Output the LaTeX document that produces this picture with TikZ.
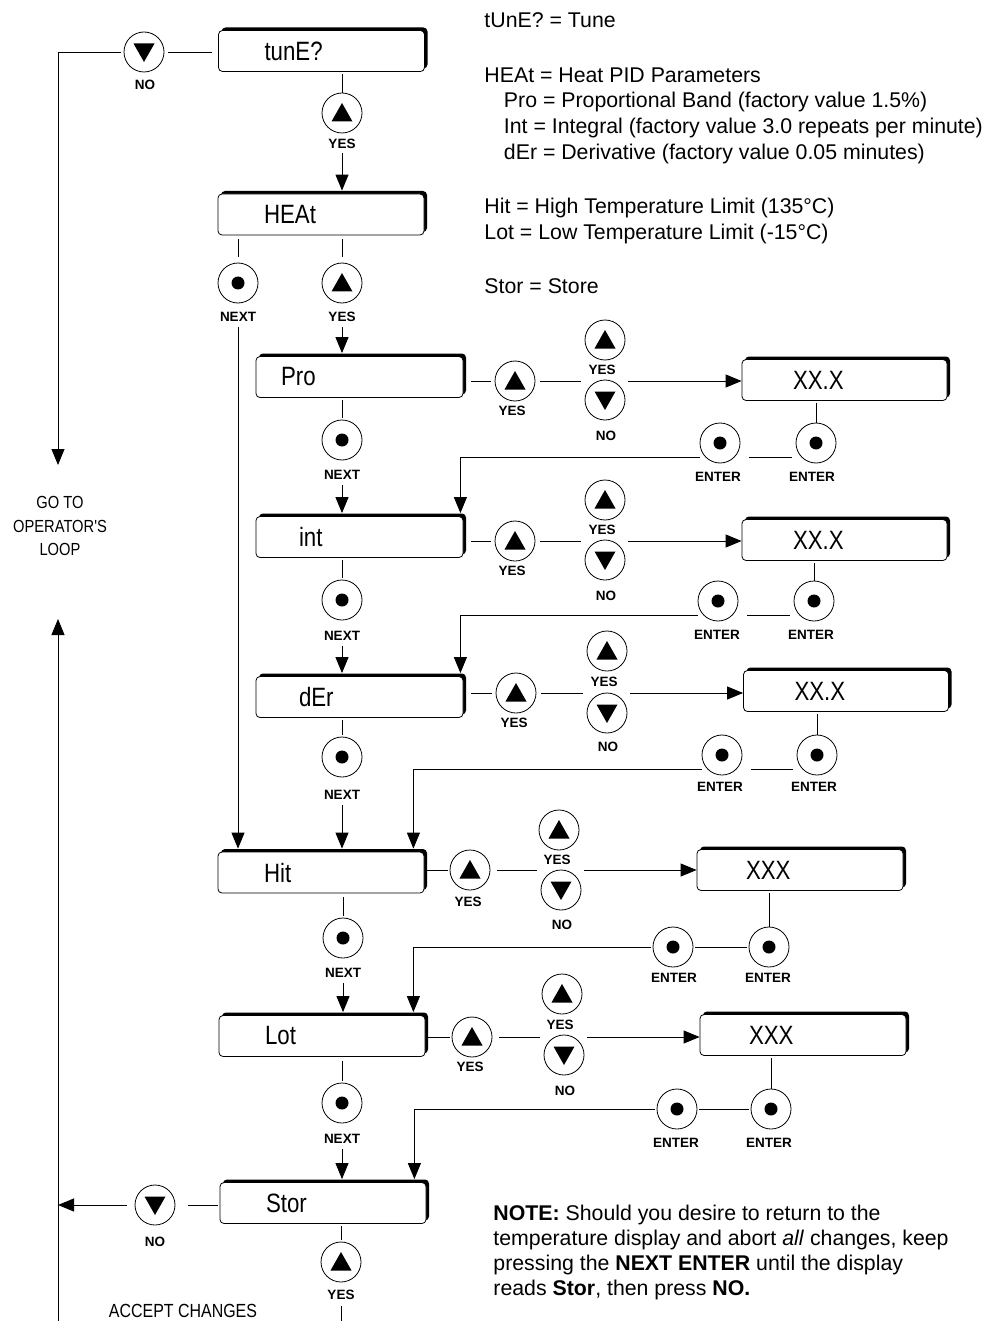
\documentclass[tikz,border=0pt]{standalone}
\usepackage{fontspec}
\setmainfont{Liberation Sans}
\newfontfamily\dispfont[FakeStretch=0.84]{Liberation Sans}
\usetikzlibrary{arrows.meta,shadows}
\begin{document}
\begin{tikzpicture}[x=1pt,y=-1pt,line width=0.9pt,
  arr/.style={-{Triangle[width=13pt,length=16pt]}},
  dbox/.style={draw, fill=white, rounded corners=4pt, line width=0.8pt, minimum height=41pt, inner ysep=0pt, align=left,
    font=\dispfont\fontsize{26.5pt}{28pt}\selectfont,
    drop shadow={shadow xshift=3pt, shadow yshift=3pt, fill=black, opacity=1}},
  boxmain/.style={dbox, text width=114pt, inner xsep=46pt},
  boxsub/.style={dbox, text width=121pt, inner xsep=43pt},
  xxbox/.style={dbox, text width=103pt, inner xsep=51pt},
  xxxbox/.style={dbox, text width=108pt, inner xsep=49pt},
  btn/.style={circle, draw, line width=0.8pt, minimum size=40pt, inner sep=0pt, fill=white},
  bup/.style={btn, path picture={\fill[black] ([yshift=10pt]path picture bounding box.center) -- ++(-10.5pt,-18.5pt) -- ++(21pt,0pt) -- cycle;}},
  bdown/.style={btn, path picture={\fill[black] ([yshift=-10pt]path picture bounding box.center) -- ++(-10.5pt,18.5pt) -- ++(21pt,0pt) -- cycle;}},
  bdot/.style={btn, path picture={\fill[black] (path picture bounding box.center) circle[radius=6.5pt];}},
  lbl/.style={font=\bfseries\fontsize{13.5pt}{15pt}\selectfont, inner sep=1pt},
  desc/.style={anchor=base west, inner sep=0pt, font=\fontsize{21.3pt}{25pt}\selectfont},
  gotext/.style={align=center, inner sep=0pt, font=\dispfont\fontsize{17.5pt}{23.5pt}\selectfont},
]
\useasboundingbox (0,0) rectangle (1004,1321);

% ---------- top ----------
\node[boxmain] (tune) at (321.5,51) {tunE?};
\node[bdown] (no1) at (144,52) {};
\node[lbl] (lno1) at (145,85) {NO};
\node[bup] (yes1) at (342,113) {};
\node[lbl] (lyes1) at (342,144) {YES};
\node[boxmain] (heat) at (321,214.5) {HEAt};
\node[bdot] (next0) at (238,283) {};
\node[lbl] (lnext0) at (238,317) {NEXT};
\node[bup] (yes2) at (342,283) {};
\node[lbl] (lyes2) at (342,317) {YES};

% ---------- Pro row ----------
\node[dbox, text width=157pt, inner xsep=25pt] (pro) at (359.5,377) {Pro};
\node[bup] (pyA) at (515,381) {};
\node[lbl] (lpyA) at (512,411) {YES};
\node[bup] (pyB) at (605,340) {};
\node[lbl] (lpyB) at (602,370) {YES};
\node[bdown] (pnB) at (605,400) {};
\node[lbl] (lpnB) at (606,436) {NO};
\node[xxbox] (pxx) at (844.5,380) {XX.X};
\node[bdot] (pnext) at (342,440) {};
\node[lbl] (lpnext) at (342,475) {NEXT};
\node[bdot] (pentR) at (816,443) {};
\node[lbl] (lpentR) at (812,477) {ENTER};
\node[bdot] (pentL) at (720,443) {};
\node[lbl] (lpentL) at (718,477) {ENTER};

% ---------- int row ----------
\node[boxsub] (int) at (359.5,537) {int};
\node[bup] (iyA) at (515,541) {};
\node[lbl] (liyA) at (512,571) {YES};
\node[bup] (iyB) at (605,500) {};
\node[lbl] (liyB) at (602,530) {YES};
\node[bdown] (inB) at (605,560) {};
\node[lbl] (linB) at (606,596) {NO};
\node[xxbox] (ixx) at (844.5,540) {XX.X};
\node[bdot] (inext) at (342,600) {};
\node[lbl] (linext) at (342,636) {NEXT};
\node[bdot] (ientR) at (814,601) {};
\node[lbl] (lientR) at (811,635) {ENTER};
\node[bdot] (ientL) at (718,601) {};
\node[lbl] (lientL) at (717,635) {ENTER};

% ---------- dEr row ----------
\node[boxsub] (der) at (359.5,697) {dEr};
\node[bup] (dyA) at (516,693) {};
\node[lbl] (ldyA) at (514,723) {YES};
\node[bup] (dyB) at (607,651) {};
\node[lbl] (ldyB) at (604,682) {YES};
\node[bdown] (dnB) at (607,713) {};
\node[lbl] (ldnB) at (608,747) {NO};
\node[xxbox] (dxx) at (846,691) {XX.X};
\node[bdot] (dnext) at (342,757) {};
\node[lbl] (ldnext) at (342,795) {NEXT};
\node[bdot] (dentR) at (817,755) {};
\node[lbl] (ldentR) at (814,787) {ENTER};
\node[bdot] (dentL) at (722,755) {};
\node[lbl] (ldentL) at (720,787) {ENTER};

% ---------- Hit row ----------
\node[boxmain] (hit) at (321,872.5) {Hit};
\node[bup] (hyA) at (470,870) {};
\node[lbl] (lhyA) at (468,902) {YES};
\node[bup] (hyB) at (559,830) {};
\node[lbl] (lhyB) at (557,860) {YES};
\node[bdown] (hnB) at (561,890) {};
\node[lbl] (lhnB) at (562,925) {NO};
\node[xxxbox] (hxxx) at (800,870) {XXX};
\node[bdot] (hnext) at (343,938) {};
\node[lbl] (lhnext) at (343,973) {NEXT};
\node[bdot] (hentR) at (769,947) {};
\node[lbl] (lhentR) at (768,978) {ENTER};
\node[bdot] (hentL) at (673,947) {};
\node[lbl] (lhentL) at (674,978) {ENTER};

% ---------- Lot row ----------
\node[boxmain] (lot) at (322,1036) {Lot};
\node[bup] (lyA) at (472,1037) {};
\node[lbl] (llyA) at (470,1067) {YES};
\node[bup] (lyB) at (562,994) {};
\node[lbl] (llyB) at (560,1025) {YES};
\node[bdown] (lnB) at (564,1055) {};
\node[lbl] (llnB) at (565,1091) {NO};
\node[xxxbox] (lxxx) at (803,1035) {XXX};
\node[bdot] (lnext) at (342,1103) {};
\node[lbl] (llnext) at (342,1139) {NEXT};
\node[bdot] (lentR) at (771,1109) {};
\node[lbl] (llentR) at (769,1143) {ENTER};
\node[bdot] (lentL) at (677,1109) {};
\node[lbl] (llentL) at (676,1143) {ENTER};

% ---------- Stor row ----------
\node[boxmain] (stor) at (323,1203) {Stor};
\node[bdown] (no2) at (155,1205) {};
\node[lbl] (lno2) at (155,1242) {NO};
\node[bup] (yes3) at (341,1262) {};
\node[lbl] (lyes3) at (341,1295) {YES};

% ---------- left loop ----------
\coordinate (goin) at (58,465);
\coordinate (goout) at (58,619);
\coordinate (gobot) at (58,1321);
\coordinate (accbot) at (342,1321);
\node[gotext] (goto) at (60,526) {GO TO\\OPERATOR'S\\LOOP};
\node[gotext, font=\dispfont\fontsize{19pt}{21pt}\selectfont] (accept) at (183,1311) {ACCEPT CHANGES};

% ---------- connectors: top ----------
\draw[shorten <=6pt, shorten >=4pt] (tune.west |- no1) -- (no1.east);
\draw[arr, shorten <=3pt] (no1.west) -| (goin);
\draw[arr] (gobot) -- (goout);
\draw[shorten <=2pt] (yes1.north |- tune.south) -- (yes1.north);
\draw[arr, shorten <=3pt, shorten >=3pt] (lyes1.south) -- (lyes1.south |- heat.north);
\draw[shorten <=4pt, shorten >=6pt] (next0.north |- heat.south) -- (next0.north);
\draw[shorten <=4pt, shorten >=6pt] (yes2.north |- heat.south) -- (yes2.north);
\draw[arr, shorten <=4pt, shorten >=3pt] (lnext0.south) -- (lnext0.south |- hit.north);
\draw[arr, shorten <=4pt, shorten >=3pt] (lyes2.south) -- (lyes2.south |- pro.north);

% ---------- connectors: Pro ----------
\draw[shorten <=8pt, shorten >=4pt] (pyA.west -| pro.east) -- (pyA.west);
\draw[shorten <=5pt, shorten >=4pt] (pyA.east) -- (pyA.east -| pnB.west);
\draw[arr, shorten <=3pt] (pyA.east -| pnB.east) -- (pyA.east -| pxx.west);
\draw[shorten <=2pt, shorten >=2pt] (pnext.north |- pro.south) -- (pnext.north);
\draw[arr, shorten <=4pt, shorten >=3pt] (lpnext.south) -- (lpnext.south |- int.north);
\draw[shorten <=2pt] (pentR.north |- pxx.south) -- (pentR.north);
\draw[shorten <=10pt, shorten >=15pt] (pentR.-135) -- (pentL.-45);
\draw[arr, shorten <=6pt, shorten >=3pt] (pentL.-135) -| ([xshift=-3pt]int.north east);

% ---------- connectors: int ----------
\draw[shorten <=8pt, shorten >=4pt] (iyA.west -| int.east) -- (iyA.west);
\draw[shorten <=5pt, shorten >=4pt] (iyA.east) -- (iyA.east -| inB.west);
\draw[arr, shorten <=3pt] (iyA.east -| inB.east) -- (iyA.east -| ixx.west);
\draw[shorten <=2pt, shorten >=2pt] (inext.north |- int.south) -- (inext.north);
\draw[arr, shorten <=4pt, shorten >=3pt] (linext.south) -- (linext.south |- der.north);
\draw[shorten <=2pt] (ientR.north |- ixx.south) -- (ientR.north);
\draw[shorten <=10pt, shorten >=15pt] (ientR.-135) -- (ientL.-45);
\draw[arr, shorten <=6pt, shorten >=3pt] (ientL.-135) -| ([xshift=-3pt]der.north east);

% ---------- connectors: dEr ----------
\draw[shorten <=8pt, shorten >=4pt] (dyA.west -| der.east) -- (dyA.west);
\draw[shorten <=5pt, shorten >=4pt] (dyA.east) -- (dyA.east -| dnB.west);
\draw[arr, shorten <=3pt] (dyA.east -| dnB.east) -- (dyA.east -| dxx.west);
\draw[shorten <=2pt, shorten >=2pt] (dnext.north |- der.south) -- (dnext.north);
\draw[arr, shorten <=4pt, shorten >=3pt] (ldnext.south) -- (ldnext.south |- hit.north);
\draw[shorten <=2pt] (dentR.north |- dxx.south) -- (dentR.north);
\draw[shorten <=10pt, shorten >=15pt] (dentR.-135) -- (dentL.-45);
\draw[arr, shorten <=6pt, shorten >=3pt] (dentL.-135) -| ([xshift=-11pt]hit.north east);

% ---------- connectors: Hit ----------
\draw[shorten <=3pt, shorten >=2pt] (hyA.west -| hit.east) -- (hyA.west);
\draw[shorten <=7pt, shorten >=4pt] (hyA.east) -- (hyA.east -| hnB.west);
\draw[arr, shorten <=3pt] (hyA.east -| hnB.east) -- (hyA.east -| hxxx.west);
\draw[shorten <=4pt, shorten >=2pt] (hnext.north |- hit.south) -- (hnext.north);
\draw[arr, shorten <=4pt, shorten >=3pt] (lhnext.south) -- (lhnext.south |- lot.north);
\draw[shorten <=2pt] (hentR.north |- hxxx.south) -- (hentR.north);
\draw[shorten <=2pt, shorten >=2pt] (hentR.west) -- (hentL.east);
\draw[arr, shorten <=2pt, shorten >=3pt] (hentL.west) -| ([xshift=-12pt]lot.north east);

% ---------- connectors: Lot ----------
\draw[shorten <=3pt, shorten >=2pt] (lyA.west -| lot.east) -- (lyA.west);
\draw[shorten <=7pt, shorten >=4pt] (lyA.east) -- (lyA.east -| lnB.west);
\draw[arr, shorten <=3pt] (lyA.east -| lnB.east) -- (lyA.east -| lxxx.west);
\draw[shorten <=4pt, shorten >=2pt] (lnext.north |- lot.south) -- (lnext.north);
\draw[arr, shorten <=4pt, shorten >=3pt] (llnext.south) -- (llnext.south |- stor.north);
\draw[shorten <=2pt] (lentR.north |- lxxx.south) -- (lentR.north);
\draw[shorten <=2pt, shorten >=2pt] (lentR.west) -- (lentL.east);
\draw[arr, shorten <=2pt, shorten >=3pt] (lentL.west) -| ([xshift=-12pt]stor.north east);

% ---------- connectors: Stor ----------
\draw[shorten <=2pt, shorten >=13pt] (stor.west |- no2) -- (no2.east);
\draw[arr, shorten <=8pt] (no2.west) -- (no2.west -| gobot);
\draw[shorten <=2pt, shorten >=2pt] (yes3.north |- stor.south) -- (yes3.north);
\draw[shorten <=5pt] (lyes3.south) -- (lyes3.south |- accbot);

% ---------- description texts ----------
\node[desc] (d1) at (484,27.5) {tUnE? = Tune};
\node[desc] (d2) at (484,82.5) {HEAt = Heat PID Parameters};
\node[desc] (d3) at (503.5,108) {Pro = Proportional Band (factory value 1.5\%)};
\node[desc] (d4) at (503.5,133.5) {Int = Integral (factory value 3.0 repeats per minute)};
\node[desc] (d5) at (503.5,159.5) {dEr = Derivative (factory value 0.05 minutes)};
\node[desc] (d6) at (484,213.5) {Hit = High Temperature Limit (135°C)};
\node[desc] (d7) at (484,239.5) {Lot = Low Temperature Limit (-15°C)};
\node[desc] (d8) at (484,293.5) {Stor = Store};

\node[desc] (n1) at (493,1220) {\textbf{NOTE:} Should you desire to return to the};
\node[desc] (n2) at (493,1245.5) {temperature display and abort \textit{all} changes, keep};
\node[desc] (n3) at (493,1270.5) {pressing the \textbf{NEXT ENTER} until the display};
\node[desc] (n4) at (493,1295) {reads \textbf{Stor}, then press \textbf{NO.}};
\end{tikzpicture}
\end{document}
